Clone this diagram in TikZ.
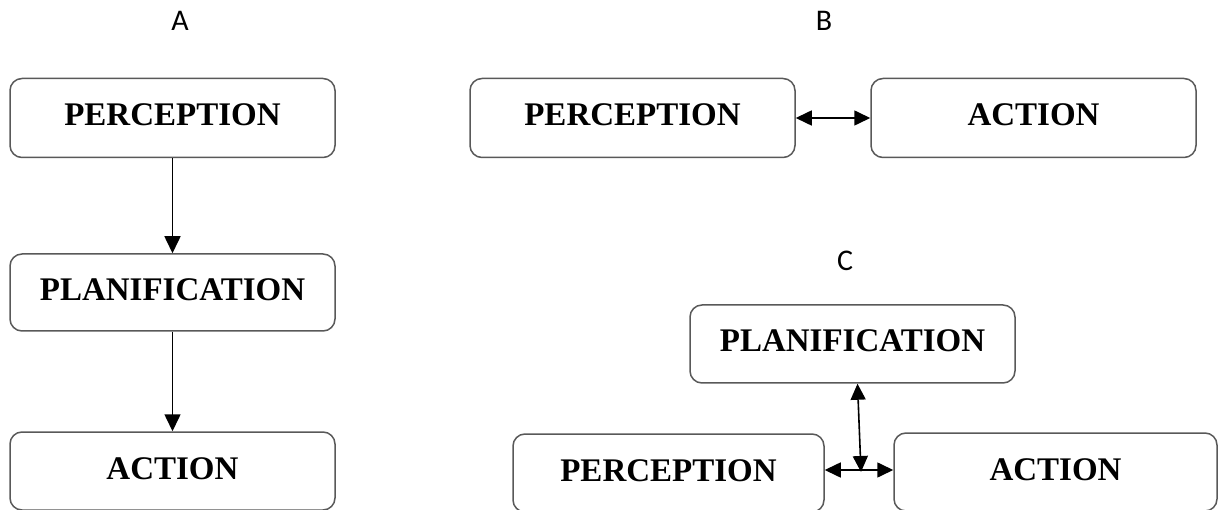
\documentclass[tikz,border=0pt]{standalone}
\usepackage{fontspec}
\setmainfont{Liberation Serif}
\newfontfamily\labfont{Carlito}
\usetikzlibrary{arrows.meta}
\begin{document}
\begin{tikzpicture}[x=1pt,y=-1pt,
  box/.style={draw=black!65, line width=1.5pt, rounded corners=12pt, fill=white,
    minimum width=325pt, minimum height=79pt, inner sep=0pt,
    text height=22pt, text depth=6pt,
    font=\fontsize{33}{36}\selectfont\bfseries},
  lab/.style={font=\labfont\fontsize{30}{32}\selectfont},
  conn/.style={line width=1.6pt, -{Triangle[length=17pt,width=16pt]}},
  dconn/.style={line width=1.6pt, {Triangle[length=16pt,width=15pt]}-{Triangle[length=16pt,width=15pt]}}]
\useasboundingbox (0,0) rectangle (1218,510);
% labels
\node[lab] (la) at (180,21) {A};
\node[lab] (lb) at (824,21) {B};
\node[lab] (lc) at (845,261) {C};
% A
\node[box] (pA) at (172.5,118) {PERCEPTION};
\node[box, minimum height=77pt] (plA) at (172.5,292.5) {PLANIFICATION};
\node[box, minimum height=78pt] (aA) at (172.5,471) {ACTION};
\draw[conn] (pA.south) -- (plA.north);
\draw[conn] (plA.south) -- (aA.north);
% B
\node[box] (pB) at (632.5,118) {PERCEPTION};
\node[box] (aB) at (1033.5,118) {ACTION};
\draw[dconn] (pB.east) -- (aB.west);
% C
\node[box, minimum height=78pt] (plC) at (852.5,344) {PLANIFICATION};
\node[box, minimum width=311pt, minimum height=78pt] (pC) at (668.5,473) {PERCEPTION};
\node[box, minimum width=323pt, minimum height=78pt] (aC) at (1055.5,472) {ACTION};
\coordinate (pCe) at ([yshift=3pt]pC.east);
\coordinate (aCw) at (aC.west |- pCe);
\draw[dconn] (pCe) -- (aCw);
\coordinate (vtop) at ([xshift=5pt]plC.south);
\coordinate (vbot) at (861,472);
\draw[dconn] (vtop) -- (vbot);
\end{tikzpicture}
\end{document}
